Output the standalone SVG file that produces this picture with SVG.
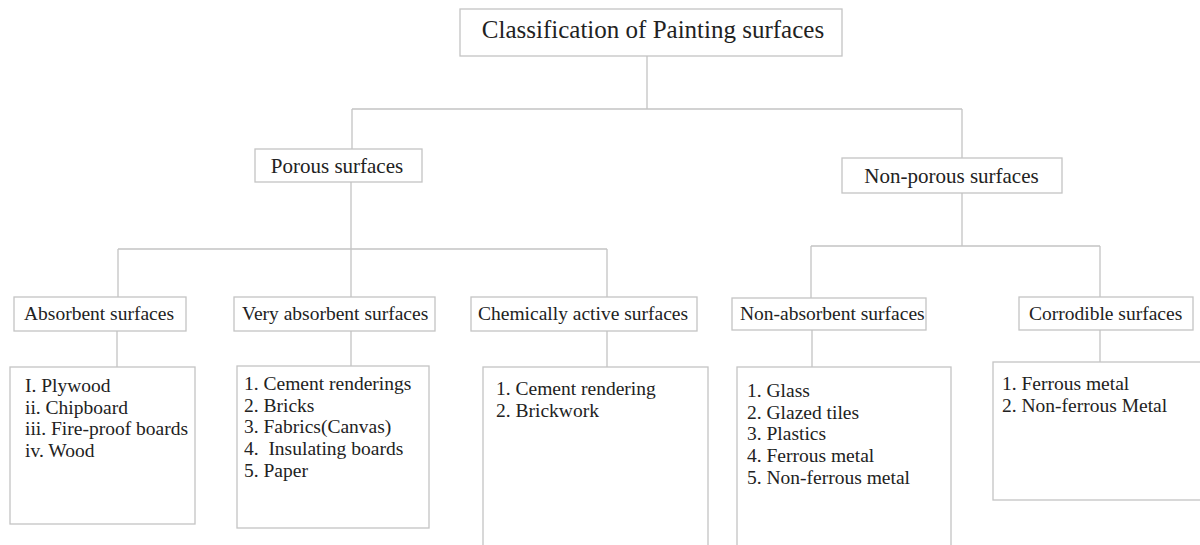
<svg xmlns="http://www.w3.org/2000/svg" width="1200" height="545" viewBox="0 0 1200 545">
<style>
.box{fill:#fff;stroke:#c4c4c4;stroke-width:1.3}
.ln{fill:none;stroke:#c4c4c4;stroke-width:1.3}
text{font-family:"Liberation Serif","Times New Roman",serif;fill:#222}
.t0{font-size:25px}
.t1{font-size:21px}
.t2{font-size:19.5px}
.li{font-size:19.5px}
</style>
<rect width="1200" height="545" fill="#fff"/>
<g id="connectors">
<path class="ln" d="M647 56V109M352 109H962M352 109V149M962 109V158"/>
<path class="ln" d="M351 182V249M118 249H607M118 249V297M351 249V297M607 249V297"/>
<path class="ln" d="M962 193V246M811 246H1100M811 246V298M1100 246V297"/>
<path class="ln" d="M117 331V367M351 331V366M607 331V367M812 330V367M1100 330V362"/>
</g>
<g id="root"><rect class="box" x="460" y="9" width="382" height="47"/><text class="t0" x="653" y="38" text-anchor="middle">Classification of Painting surfaces</text></g>
<g id="porous"><rect class="box" x="255" y="149" width="167" height="33"/><text class="t1" x="337" y="173" text-anchor="middle">Porous surfaces</text></g>
<g id="nonporous"><rect class="box" x="842" y="158" width="220" height="35"/><text class="t1" x="951.5" y="183" text-anchor="middle">Non-porous surfaces</text></g>
<g id="absorbent"><rect class="box" x="14" y="297" width="172" height="34"/><text class="t2" x="24" y="320">Absorbent surfaces</text></g>
<g id="veryabsorbent"><rect class="box" x="234" y="297" width="201" height="34"/><text class="t2" x="242" y="320">Very absorbent surfaces</text></g>
<g id="chemical"><rect class="box" x="471" y="297" width="226" height="34"/><text class="t2" x="478" y="320">Chemically active surfaces</text></g>
<g id="nonabsorbent"><rect class="box" x="732" y="298" width="194" height="32"/><text class="t2" x="740" y="320">Non-absorbent surfaces</text></g>
<g id="corrodible"><rect class="box" x="1019" y="297" width="174" height="33"/><text class="t2" x="1029" y="320">Corrodible surfaces</text></g>
<g id="list-absorbent"><rect class="box" x="10" y="367" width="185" height="157"/>
<text class="li" x="25" y="392">I. Plywood</text>
<text class="li" x="25" y="413.5">ii. Chipboard</text>
<text class="li" x="25" y="435">iii. Fire-proof boards</text>
<text class="li" x="25" y="456.5">iv. Wood</text></g>
<g id="list-veryabsorbent"><rect class="box" x="237" y="366" width="192" height="162"/>
<text class="li" x="244" y="390">1. Cement renderings</text>
<text class="li" x="244" y="411.7">2. Bricks</text>
<text class="li" x="244" y="433.3">3. Fabrics(Canvas)</text>
<text class="li" x="244" y="455" xml:space="preserve">4.  Insulating boards</text>
<text class="li" x="244" y="476.7">5. Paper</text></g>
<g id="list-chemical"><rect class="box" x="483" y="367" width="225" height="180"/>
<text class="li" x="496" y="395">1. Cement rendering</text>
<text class="li" x="496" y="416.7">2. Brickwork</text></g>
<g id="list-nonabsorbent"><rect class="box" x="737" y="367" width="214" height="185"/>
<text class="li" x="747" y="397">1. Glass</text>
<text class="li" x="747" y="418.7">2. Glazed tiles</text>
<text class="li" x="747" y="440.3">3. Plastics</text>
<text class="li" x="747" y="462">4. Ferrous metal</text>
<text class="li" x="747" y="483.7">5. Non-ferrous metal</text></g>
<g id="list-corrodible"><rect class="box" x="993" y="362" width="212" height="138"/>
<text class="li" x="1002" y="390">1. Ferrous metal</text>
<text class="li" x="1002" y="412">2. Non-ferrous Metal</text></g>
</svg>
